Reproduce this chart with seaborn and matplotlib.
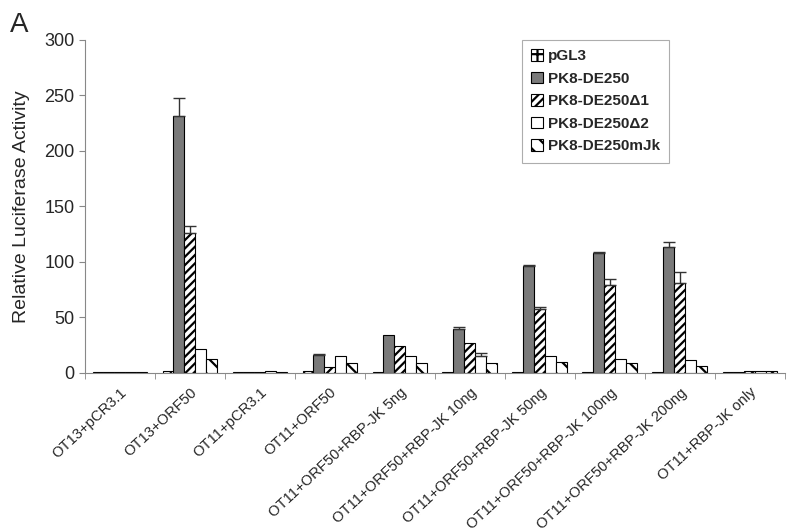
import matplotlib
matplotlib.use("Agg")
import matplotlib.pyplot as plt
from matplotlib.patches import Patch
import seaborn as sns
import pandas as pd
import numpy as np

# conditions on the x axis
groups = ["OT13+pCR3.1", "OT13+ORF50", "OT11+pCR3.1", "OT11+ORF50",
          "OT11+ORF50+RBP-JK 5ng", "OT11+ORF50+RBP-JK 10ng",
          "OT11+ORF50+RBP-JK 50ng", "OT11+ORF50+RBP-JK 100ng",
          "OT11+ORF50+RBP-JK 200ng", "OT11+RBP-JK only"]
constructs = ["pGL3", "PK8-DE250", "PK8-DE250\u03941", "PK8-DE250\u03942", "PK8-DE250mJk"]

# mean activity per construct, one value per group
pgl3 = [1.0, 1.5, 0.5, 2.0, 0.5, 0.5, 0.5, 0.5, 0.5, 0.5]
pk8 = [1.0, 231, 0.5, 16, 34, 40, 96, 108, 113, 1.0]
d1 = [1.0, 126, 0.5, 5, 24, 27, 58, 79, 81, 2.0]
d2 = [0.5, 22, 1.5, 15, 15, 15, 15, 13, 12, 1.5]
mjk = [0.5, 12.5, 0.5, 8.5, 9, 9, 10, 8.5, 6, 1.5]

# upward error bars (0 = none visible)
pgl3_err = [0, 0, 0, 0, 0, 0, 0, 0, 0, 0]
pk8_err = [0, 17, 0, 1.5, 0, 1.0, 1.5, 0.5, 5, 0]
d1_err = [0, 6, 0, 0, 0, 0, 1.5, 6, 10, 0]
d2_err = [0, 0, 0, 0, 0, 3, 0, 0, 0, 0]
mjk_err = [0, 0, 0, 0, 0, 0, 0, 0, 0, 0]

values = [pgl3, pk8, d1, d2, mjk]
errors = [pgl3_err, pk8_err, d1_err, d2_err, mjk_err]

rows = []
for name, vals in zip(constructs, values):
    for g, v in zip(groups, vals):
        rows.append({"group": g, "construct": name, "value": v})
df = pd.DataFrame(rows)

sns.set_style("white")
plt.rcParams["font.family"] = ["Liberation Sans", "DejaVu Sans"]
plt.rcParams["hatch.linewidth"] = 1.6

fig, ax = plt.subplots(figsize=(8, 5.32), dpi=100)
fig.subplots_adjust(left=0.106, right=0.981, bottom=0.299, top=0.925)

face = ["white", "#7a7a7a", "white", "white", "white"]
hatches = ["++", None, "////", None, "\\\\"]

sns.barplot(data=df, x="group", y="value", hue="construct", order=groups,
            hue_order=constructs, width=0.78, palette=face, edgecolor="black",
            linewidth=0.8, legend=False, errorbar=None, ax=ax)

for cont, h, err in zip(ax.containers, hatches, errors):
    xs, ys = [], []
    for bar in cont:
        if h:
            bar.set_hatch(h)
        xs.append(bar.get_x() + bar.get_width() / 2)
        ys.append(bar.get_height())
    err = np.array(err, dtype=float)
    m = err > 0
    if m.any():
        ax.errorbar(np.array(xs)[m], np.array(ys)[m],
                    yerr=[np.zeros(m.sum()), err[m]], fmt="none",
                    ecolor="#333333", elinewidth=1, capsize=4, capthick=1)

ax.set_ylim(0, 300)
ax.set_xlim(-0.5, len(groups) - 0.5)
ax.set_yticks(range(0, 301, 50))
ax.tick_params(axis="y", labelsize=13, length=4, color="#888888", left=True)
ax.set_xticks(range(len(groups)))
ax.set_xticklabels(groups, rotation=43, ha="right", rotation_mode="anchor", fontsize=10.6)
ax.set_xticks(np.arange(-0.5, len(groups), 1), minor=True)
ax.tick_params(axis="x", which="major", length=0, pad=9)
ax.tick_params(axis="x", which="minor", length=4, color="#888888", bottom=True)
ax.set_xlabel("")
ax.set_ylabel("Relative Luciferase Activity", fontsize=14, labelpad=10)

sns.despine(ax=ax)
for s in ["left", "bottom"]:
    ax.spines[s].set_color("#888888")
    ax.spines[s].set_linewidth(0.8)

handles = [Patch(facecolor=f, edgecolor="black", hatch=h, linewidth=0.8)
           for f, h in zip(face, hatches)]
leg = ax.legend(handles, constructs, loc="upper left", bbox_to_anchor=(0.624, 1.0),
                borderaxespad=0,
                prop={"weight": "bold", "size": 11}, frameon=True, fancybox=False,
                handlelength=0.8, handleheight=0.8, handletextpad=0.3,
                labelspacing=0.55, borderpad=0.6)
leg.get_frame().set_edgecolor("#999999")
leg.get_frame().set_linewidth(0.8)

fig.text(0.012, 0.94, "A", fontsize=20)

fig.savefig("out.png", dpi=100)
